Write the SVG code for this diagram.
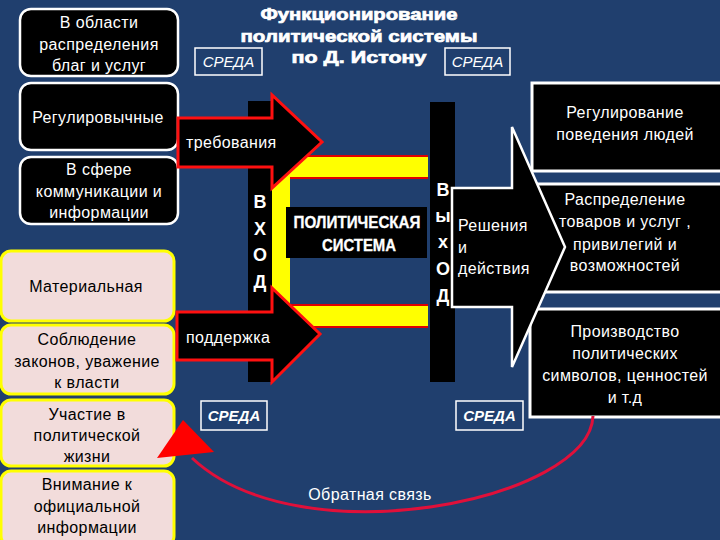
<svg xmlns="http://www.w3.org/2000/svg" width="720" height="540" viewBox="0 0 720 540">
<style>
.bg{fill:#203f6e}
.bbox{fill:#000;stroke:#fff;stroke-width:2.5}
.pbox{fill:#f2dcdb;stroke:#ffff00;stroke-width:3}
.rbox{fill:#000;stroke:#fff;stroke-width:3}
.wt{fill:#fff;font-family:"Liberation Sans","DejaVu Sans",sans-serif;font-size:16px;letter-spacing:0.4px;text-anchor:middle}
.kt{fill:#000;font-family:"Liberation Sans","DejaVu Sans",sans-serif;font-size:16px;letter-spacing:0.4px;text-anchor:middle}
.title{fill:#fff;stroke:#fff;stroke-width:0.7;font-family:"Liberation Sans","DejaVu Sans",sans-serif;font-weight:bold;font-size:17px;text-anchor:middle}
.ps{fill:#fff;stroke:#fff;stroke-width:0.3;font-family:"Liberation Sans","DejaVu Sans",sans-serif;font-weight:bold;font-size:16px;text-anchor:middle}
.sreda{fill:none;stroke:#fff;stroke-width:1.5}
.st{fill:#fff;font-family:"Liberation Sans","DejaVu Sans",sans-serif;font-style:italic;font-size:15px;text-anchor:middle}
.stb{fill:#fff;font-family:"Liberation Sans","DejaVu Sans",sans-serif;font-style:italic;font-weight:bold;font-size:15px;text-anchor:middle}
.bar{fill:#000}
.letter{fill:#fff;font-family:"Liberation Sans","DejaVu Sans",sans-serif;font-weight:bold;font-size:18px;text-anchor:middle}
.inarrow{fill:#000;stroke:#ff1010;stroke-width:3;stroke-linejoin:miter}
.outarrow{fill:#000;stroke:#fff;stroke-width:2.5}
.redline{stroke:#e00000;stroke-width:2}
.lt{fill:#fff;font-family:"Liberation Sans","DejaVu Sans",sans-serif;font-size:16px;letter-spacing:0.4px}
</style>
<rect class="bg" x="0" y="0" width="720" height="540"/>

<g id="title">
<text class="title" x="359" y="20" textLength="197" lengthAdjust="spacingAndGlyphs">Функционирование</text>
<text class="title" x="359" y="42" textLength="237" lengthAdjust="spacingAndGlyphs">политической системы</text>
<text class="title" x="359" y="63" textLength="135" lengthAdjust="spacingAndGlyphs">по Д. Истону</text>
</g>

<g id="sreda-top-left"><rect class="sreda" x="195" y="48" width="67" height="27"/><text class="st" x="228.5" y="67">СРЕДА</text></g>
<g id="sreda-top-right"><rect class="sreda" x="445" y="48" width="65" height="27"/><text class="st" x="477.5" y="67">СРЕДА</text></g>
<g id="sreda-bottom-left"><rect class="sreda" x="201" y="401" width="66" height="29"/><text class="stb" x="234" y="421">СРЕДА</text></g>
<g id="sreda-bottom-right"><rect class="sreda" x="456" y="401" width="67" height="29"/><text class="stb" x="489.5" y="421">СРЕДА</text></g>

<g id="left1"><rect class="bbox" x="20" y="9" width="158" height="67" rx="11"/>
<text class="wt" x="99" y="28">В области</text><text class="wt" x="99" y="50">распределения</text><text class="wt" x="99" y="71">благ и услуг</text></g>
<g id="left2"><rect class="bbox" x="20" y="83" width="158" height="67" rx="11"/>
<text class="wt" x="98" y="123">Регулировычные</text></g>
<g id="left3"><rect class="bbox" x="20" y="157" width="158" height="67" rx="11"/>
<text class="wt" x="99" y="175">В сфере</text><text class="wt" x="99" y="197">коммуникации и</text><text class="wt" x="99" y="218">информации</text></g>
<g id="left4"><rect class="pbox" x="1" y="251" width="173" height="70" rx="10"/>
<text class="kt" x="86" y="292">Материальная</text></g>
<g id="left5"><rect class="pbox" x="1" y="325" width="173" height="69" rx="10"/>
<text class="kt" x="87" y="345">Соблюдение</text><text class="kt" x="87" y="367">законов, уважение</text><text class="kt" x="87" y="388">к власти</text></g>
<g id="left6"><rect class="pbox" x="1" y="400" width="173" height="66" rx="10"/>
<text class="kt" x="87" y="420">Участие в</text><text class="kt" x="87" y="441">политической</text><text class="kt" x="87" y="462">жизни</text></g>
<g id="left7"><rect class="pbox" x="1" y="471" width="173" height="75" rx="10"/>
<text class="kt" x="87" y="490">Внимание к</text><text class="kt" x="87" y="512">официальной</text><text class="kt" x="87" y="533">информации</text></g>

<g id="right1"><rect class="rbox" x="532" y="83" width="195" height="88"/>
<text class="wt" x="625" y="118">Регулирование</text><text class="wt" x="625" y="140">поведения людей</text></g>
<g id="right2"><rect class="rbox" x="532" y="184" width="195" height="108"/>
<text class="wt" x="625" y="205">Распределение</text><text class="wt" x="625" y="227">товаров  и услуг ,</text><text class="wt" x="625" y="250">привилегий и</text><text class="wt" x="625" y="271">возможностей</text></g>
<g id="right3"><rect class="rbox" x="530" y="309" width="197" height="108"/>
<text class="wt" x="625" y="337">Производство</text><text class="wt" x="625" y="359">политических</text><text class="wt" x="625" y="381">символов, ценностей</text><text class="wt" x="625" y="403">и т.д</text></g>

<g id="input-bar"><rect class="bar" x="248" y="101" width="24" height="281"/></g>
<g id="output-bar"><rect class="bar" x="430" y="102" width="25" height="280"/>
<text class="letter" x="443" y="196">В</text><text class="letter" x="443" y="222">ы</text><text class="letter" x="443" y="248">х</text><text class="letter" x="443" y="275">О</text><text class="letter" x="443" y="302">Д</text></g>

<g id="system-frame">
<path d="M272 156 H428 V178 H290 V305 H428 V327 H272 Z" fill="#ffff00"/>
<line class="redline" x1="272" y1="156" x2="428" y2="156"/>
<line class="redline" x1="290" y1="178" x2="428" y2="178"/>
<line class="redline" x1="290" y1="305" x2="428" y2="305"/>
<line class="redline" x1="272" y1="327" x2="428" y2="327"/>
</g>

<g id="political-system"><rect x="286" y="207" width="141" height="51" fill="#000"/>
<text class="ps" x="357" y="228" textLength="127" lengthAdjust="spacingAndGlyphs">ПОЛИТИЧЕСКАЯ</text>
<text class="ps" x="359" y="251" textLength="74" lengthAdjust="spacingAndGlyphs">СИСТЕМА</text></g>

<g id="input-letters">
<text class="letter" x="260" y="208">В</text><text class="letter" x="260" y="235">Х</text><text class="letter" x="260" y="261">О</text><text class="letter" x="260" y="288">Д</text></g>

<g id="connectors">
<path class="inarrow" d="M178 118 H272 V95 L322 142 L272 188 V167 H178 Z"/>
<path class="inarrow" d="M177 312 H272 V288 L320 334 L272 382 V360 H177 Z"/>
<path class="outarrow" d="M452 188 H512 V127 L565 247 L512 367 V307 H452 Z"/>
<path d="M593 416 C590 500 300 560 192 458" fill="none" stroke="#e0103a" stroke-width="3"/>
<polygon points="157,458 183,420 214,452" fill="#ff0000"/>
</g>

<g id="labels">
<text class="lt" x="186" y="148">требования</text>
<text class="lt" x="186" y="343">поддержка</text>
<text class="lt" x="458" y="231">Решения</text>
<text class="lt" x="458" y="253">и</text>
<text class="lt" x="458" y="274">действия</text>
<text class="lt" x="370" y="500" text-anchor="middle" font-size="15">Обратная связь</text>
</g>
</svg>
